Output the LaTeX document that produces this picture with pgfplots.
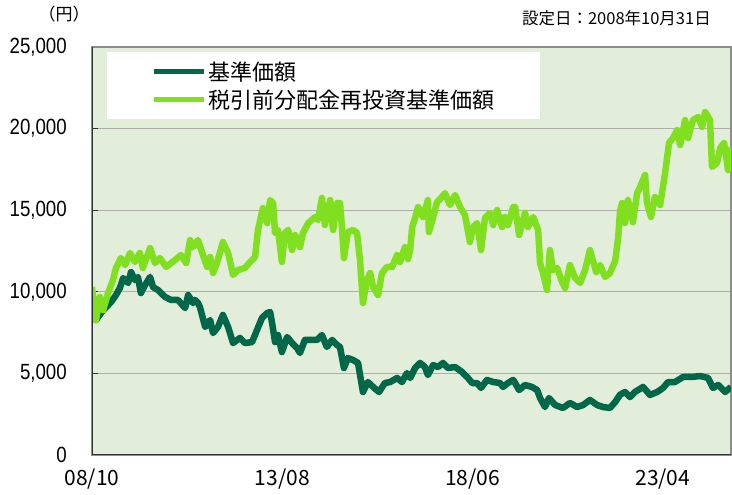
\documentclass[border=0pt]{standalone}
\usepackage{fontspec}
\setmainfont{Liberation Sans}[FakeStretch=0.85]
\newfontfamily\jp{Noto Sans CJK JP}
\usepackage{pgfplots}
\pgfplotsset{compat=1.18}
\definecolor{darkg}{RGB}{0,104,72}
\definecolor{lightg}{RGB}{128,224,32}
\definecolor{bgc}{RGB}{226,238,217}
\begin{document}
\begin{tikzpicture}
\useasboundingbox (0pt,0pt) rectangle (732pt,495pt);
\node[anchor=center, inner sep=0pt] at (64pt,481pt) {\jp\fontsize{17}{17}\selectfont （円）};
\node[anchor=east, inner sep=0pt] at (711pt,477pt) {\jp\fontsize{16.5}{16.5}\selectfont 設定日：2008年10月31日};
\begin{axis}[
  at={(92pt,40pt)}, anchor=south west,
  scale only axis, width=639pt, height=408pt,
  xmin=0, xmax=194.8, ymin=0, ymax=25000,
  axis background/.style={fill=bgc},
  axis line style={draw=black!45, line width=1.6pt},
  xtick={0,58,116,174},
  xticklabels={08/10,13/08,18/06,23/04},
  xtick style={draw=none},
  ytick={0,5000,10000,15000,20000,25000},
  ytick pos=left, tick align=inside, major tick length=6pt,
  ytick style={draw=black!80, line width=1.2pt},
  ymajorgrids, grid style={draw=black!32, line width=1.2pt},
  /pgf/number format/assume math mode=true,
  /pgf/number format/1000 sep={,},
  scaled y ticks=false,
  yticklabel style={font=\fontsize{22}{22}\selectfont, anchor=east, inner sep=0pt, xshift=-25pt},
  xticklabel style={font=\jp\fontsize{21}{21}\selectfont, anchor=center, inner sep=0pt, yshift=-24pt},
  legend image code/.code={\draw[#1, line width=5pt] (0pt,0pt) -- (50pt,0pt);},
  legend cell align=left,
  legend style={at={(axis description cs:0.0235,0.988)}, anchor=north west,
    draw=none, fill=white, inner xsep=44pt, inner ysep=6pt,
    font=\jp\fontsize{22}{22}\selectfont, row sep=1pt,
    nodes={inner xsep=2pt, inner ysep=3.5pt}},
]
\addplot[darkg, line width=6.5pt, line join=round] coordinates {
(0,10000) (1.2,8270) (3.4,8880) (4.0,9000) (5.8,9370) (7.3,9800) (8.5,10230) (9.5,10840)
(11.0,10540) (11.9,11210) (13.1,10720) (14.0,10910) (14.9,9925) (16.2,10420) (17.7,10910)
(18.6,10290) (20.1,10110) (22.3,9680) (24.1,9500) (26.2,9500) (28.4,9000) (29.3,9800)
(30.8,9310) (31.4,9500) (32.3,9310) (32.9,9070) (34.5,7840) (36.0,8270) (36.9,7470)
(38.4,7840) (39.9,8580) (41.5,7840) (43.0,6860) (45.1,7170) (46.6,6860) (48.8,6920)
(50.3,7660) (51.8,8390) (53.4,8700) (54.3,8760) (54.9,8090) (55.8,6920) (56.7,7350)
(57.9,6310) (59.5,7230) (61.0,6860) (62.5,6560) (63.4,6250) (64.9,7050) (66.5,7050)
(68.6,7050) (70.1,7350) (71.6,6620) (73.2,7050) (74.7,6740) (75.6,6620) (76.8,5330)
(78.0,5940) (79.6,5820) (81.1,5640) (82.6,3860) (84.1,4470) (85.7,4170) (87.5,3860)
(89.3,4410) (90.9,4470) (93.0,4720) (94.5,4470) (96.0,5020) (97.0,4720) (98.5,5330)
(100.0,5640) (101.5,5390) (102.4,4900) (104.0,5510) (105.5,5390) (107.0,5640) (108.5,5330)
(110.7,5390) (112.8,5090) (114.6,4720) (115.9,4410) (117.4,4410) (118.6,4110) (120.4,4600)
(122.3,4470) (124.4,4410) (125.3,4170) (126.8,4410) (128.4,4600) (129.0,4410) (130.2,3980)
(132.0,4290) (134.1,4170) (135.7,3980) (136.6,3490) (138.1,2940) (139.3,3490) (141.2,3060)
(143.6,2880) (145.7,3190) (147.9,2940) (149.7,3060) (151.8,3370) (154.0,3060) (155.8,2940)
(157.9,2880) (159.5,3250) (161.0,3700) (162.5,3860) (164.0,3550) (165.5,3860) (168.0,4170)
(170.1,3680) (172.3,3860) (174.1,4110) (175.6,4470) (177.7,4470) (180.2,4780) (182.9,4780)
(185.4,4840) (187.8,4720) (189.3,4110) (190.9,4290) (193.0,3860) (194.8,4170)
};
\addlegendentry{基準価額}
\addplot[lightg, line width=6.5pt, line join=round] coordinates {
(0,10300) (1.2,8270) (2.4,9680) (3.4,8880) (4.9,9925) (6.4,10720) (7.3,11460) (8.8,12070)
(10.1,11640) (11.6,12380) (13.1,11825) (14.6,12380) (15.5,11460) (17.7,12680) (19.2,11760)
(20.7,12070) (22.6,11520) (25.3,11950) (27.1,12250) (28.7,11760) (29.9,13170) (30.8,12740)
(32.3,13170) (33.5,12440) (35.1,11520) (36.0,12130) (36.9,11150) (38.1,11760) (39.9,13050)
(41.5,12380) (43.0,11030) (44.5,11330) (46.6,11460) (48.2,11825) (49.7,12130) (50.6,13790)
(52.1,15130) (53.4,14210) (54.3,15620) (55.2,15440) (55.8,13600) (56.7,13790) (57.9,11825)
(58.8,13600) (59.8,13790) (61.0,12560) (61.9,13480) (63.4,12740) (64.3,13600) (65.9,14210)
(68.0,14580) (68.9,14400) (70.1,15750) (71.0,14090) (72.6,15620) (73.5,13790) (74.7,15440)
(75.6,15440) (76.2,13970) (76.8,12070) (78.0,13660) (79.6,13790) (80.8,13600) (81.7,11950)
(82.6,9310) (83.8,10720) (84.8,11150) (85.7,10290) (87.2,9800) (88.4,11150) (89.9,11520)
(91.5,11520) (93.0,12250) (93.9,11825) (95.4,12740) (96.3,12000) (97.0,12560) (97.6,13970)
(98.5,14520) (99.4,15190) (100.9,14580) (102.4,15620) (102.7,13660) (104.0,14580) (105.2,15500)
(106.7,15810) (107.6,16050) (109.1,15320) (110.7,15930) (112.2,15190) (113.7,14700) (115.2,13050)
(116.2,13970) (117.4,14210) (118.6,12560) (119.8,14520) (121.3,14830) (122.3,14090) (123.5,15010)
(125.0,13970) (125.9,14580) (126.8,14090) (128.4,15190) (129.0,15190) (130.2,13480) (132.0,14830)
(132.9,13970) (134.5,14580) (136.0,13790) (136.6,11760) (137.5,11150) (138.7,10110) (139.6,12560)
(140.5,11330) (141.8,11460) (143.3,10600) (144.2,10230) (145.7,11640) (147.3,10840) (148.8,10540)
(150.3,11330) (151.8,12560) (153.7,11210) (154.9,11640) (156.4,10910) (157.9,11150) (159.5,11900)
(160.4,13300) (161.0,15000) (161.6,15440) (162.5,14210) (163.4,15620) (164.9,14270) (166.2,16050)
(167.1,16420) (168.6,17160) (169.2,15440) (170.4,14580) (171.6,15810) (173.2,15320) (174.7,17280)
(175.9,19120) (177.1,19420) (178.4,19910) (179.3,18990) (180.8,20520) (181.7,19420) (183.2,20520)
(184.8,20710) (186.0,20100) (186.9,21020) (188.4,20520) (189.0,17650) (190.5,17890) (191.5,18810)
(192.7,19120) (193.9,17460) (194.8,18870)
};
\addlegendentry{税引前分配金再投資基準価額}
\draw[black!80, line width=2pt] (rel axis cs:0,1) -- (rel axis cs:0,0) -- (rel axis cs:1,0);
\end{axis}
\end{tikzpicture}
\end{document}
